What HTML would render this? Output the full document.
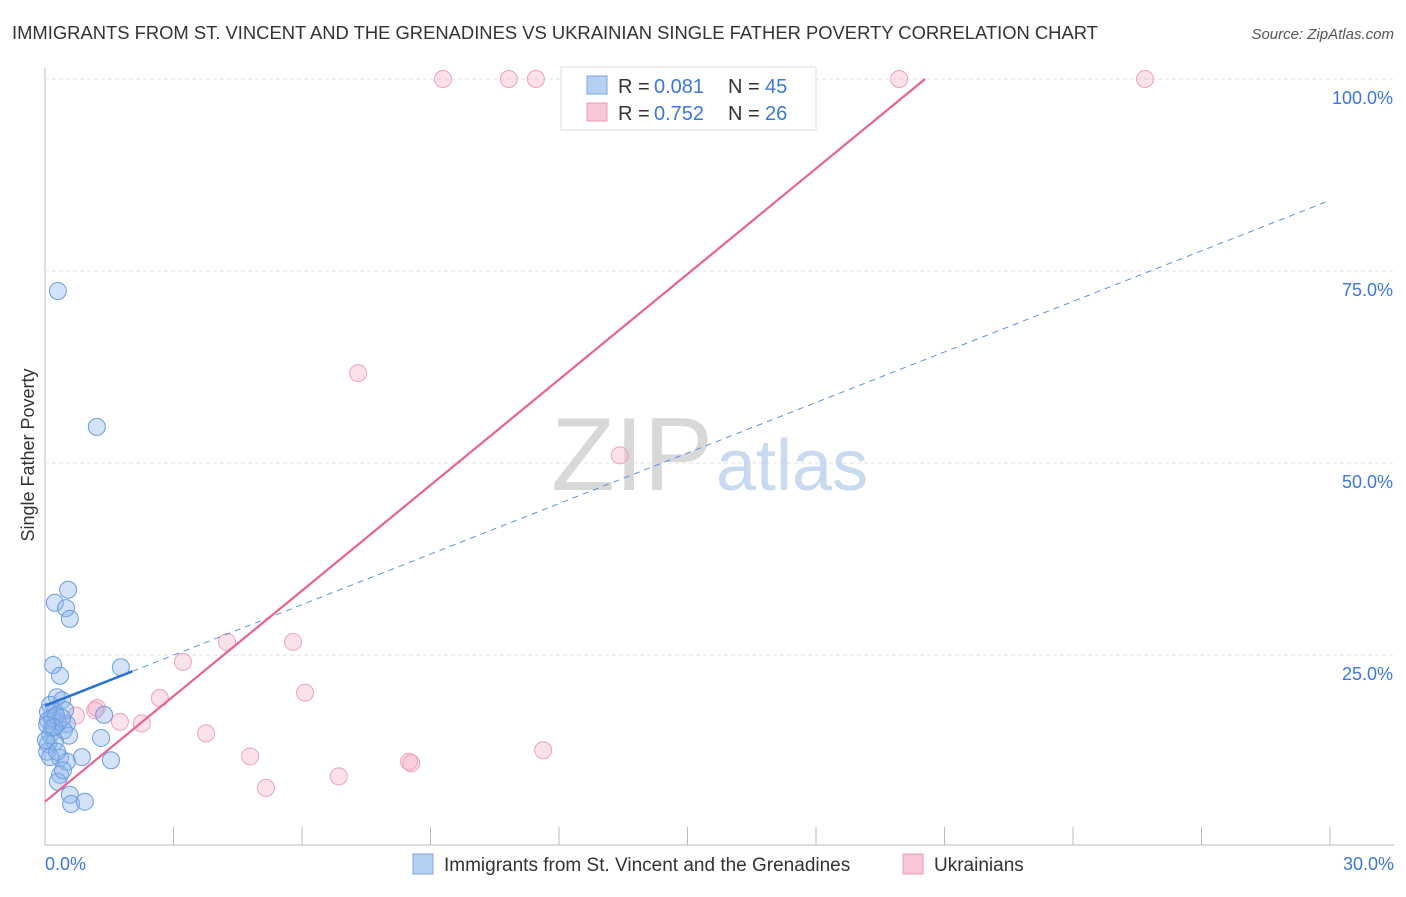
<!DOCTYPE html>
<html><head><meta charset="utf-8"><style>
body{margin:0;background:#fff;font-family:"Liberation Sans",sans-serif}
svg text{font-family:"Liberation Sans",sans-serif}
</style></head><body>
<svg width="1406" height="892">
<text x="12" y="39" font-size="18.4" fill="#333">IMMIGRANTS FROM ST. VINCENT AND THE GRENADINES VS UKRAINIAN SINGLE FATHER POVERTY CORRELATION CHART</text>
<text x="1394" y="39" font-size="15" fill="#555" font-style="italic" text-anchor="end">Source: ZipAtlas.com</text>
<g id="grid"></g>
<text x="713" y="490" font-size="104" fill="#d8d8d8" text-anchor="end" font-family="Liberation Serif">ZIP</text>
<text x="716" y="490" font-size="72" fill="#c8daf0">atlas</text>
<text x="34" y="455" font-size="18" fill="#333" text-anchor="middle" transform="rotate(-90 34 455)">Single Father Poverty</text>
<g id="marks"></g>
<g>
<rect x="561" y="67" width="255" height="63" fill="#fff" stroke="#ddd"/>
<rect x="587" y="76" width="20" height="18" fill="#b6d0f3" stroke="#7aa6e0"/>
<rect x="587" y="103" width="20" height="18" fill="#f8c6d6" stroke="#eb9ab4"/>
<text x="618" y="93" font-size="20" fill="#333">R =</text><text x="654" y="93" font-size="20" fill="#3b78d8">0.081</text>
<text x="728" y="93" font-size="20" fill="#333">N =</text><text x="765" y="93" font-size="20" fill="#3b78d8">45</text>
<text x="618" y="120" font-size="20" fill="#333">R =</text><text x="654" y="120" font-size="20" fill="#3b78d8">0.752</text>
<text x="728" y="120" font-size="20" fill="#333">N =</text><text x="765" y="120" font-size="20" fill="#3b78d8">26</text>
</g>
<g>
<rect x="413" y="854" width="20" height="20" fill="#b6d0f3" stroke="#7aa6e0"/>
<text x="444" y="871" font-size="19" fill="#333">Immigrants from St. Vincent and the Grenadines</text>
<rect x="903" y="854" width="20" height="20" fill="#f8c6d6" stroke="#eb9ab4"/>
<text x="934" y="871" font-size="19" fill="#333">Ukrainians</text>
</g>
</svg>
<script>
const yTicks=[25,50,75,100];
const yTickLabels=["25.0%","50.0%","75.0%","100.0%"];
const xTicks=[0,3,6,9,12,15,18,21,24,27,30];
const blueX=[0.30,1.21,0.54,0.23,0.49,0.58,0.19,1.77,0.35,0.28,0.40,0.12,0.47,0.23,1.38,0.07,0.30,0.51,0.16,0.44,0.12,0.56,1.31,0.07,0.23,0.05,0.35,0.86,1.54,0.51,0.12,0.35,0.30,0.58,0.61,0.93,0.07,0.16,0.26,0.40,0.02,0.21,0.28,0.05,0.42];
const blueY=[72.4,54.7,33.5,31.8,31.1,29.7,23.7,23.4,22.3,19.5,19.1,18.5,17.8,17.6,17.2,16.5,16.3,16.0,15.5,15.2,14.6,14.5,14.2,13.4,13.7,12.4,11.6,11.7,11.3,11.1,11.7,9.4,8.5,6.8,5.6,5.9,17.6,16.8,17.1,16.8,13.9,15.6,12.4,15.9,10.0];
const pinkX=[9.29,10.83,11.46,16.11,19.94,25.68,13.82,7.31,13.42,4.25,5.79,3.22,6.07,2.68,1.21,0.72,1.75,2.26,3.76,4.79,11.63,8.50,8.55,6.86,5.16,1.17];
const pinkY=[100,100,100,100,100,100,100,61.7,51.0,26.7,26.7,24.1,20.1,19.4,18.1,17.1,16.3,16.1,14.8,11.8,12.6,11.1,10.9,9.2,7.7,17.8];
const blueLine=[18.4,84.2];
const pinkLine=[5.9,4.58];
const X=v=>45+v*42.833, Y=v=>847-v*7.68;
const NS="http://www.w3.org/2000/svg";
function mk(p,t,a){const e=document.createElementNS(NS,t);for(const k in a)e.setAttribute(k,a[k]);p.appendChild(e);return e;}
const g=document.getElementById('grid'), m=document.getElementById('marks');
let ax=mk(g,'line',{x1:45,y1:68,x2:45,y2:845,stroke:'#bbb'});


let bx=mk(g,'line',{x1:45,y1:845,x2:1394,y2:845,stroke:'#bbb'});


yTicks.forEach((v,i)=>{
 const l=mk(g,'line',{x1:45,y1:Y(v),x2:1394,y2:Y(v),stroke:'#e2e2e2','stroke-dasharray':'4,3'});
 
 
 const t=mk(g,'text',{x:1393,y:Y(v)+25,'font-size':18,fill:'#3b78d8','text-anchor':'end'});
 t.textContent=yTickLabels[i];
 
 
});
xTicks.forEach(v=>{
 const l=mk(g,'line',{x1:X(v),y1:827,x2:X(v),y2:845,stroke:'#bbb'});
 
 
});
let t0=mk(g,'text',{x:45,y:870,'font-size':18,fill:'#3b78d8'});t0.textContent='0.0%';


let t1=mk(g,'text',{x:1394,y:870,'font-size':18,fill:'#3b78d8','text-anchor':'end'});t1.textContent='30.0%';


pinkX.forEach((x,i)=>{
 const c=mk(m,'circle',{cx:X(x),cy:Y(pinkY[i]),r:8.5,fill:'rgba(244,170,195,0.35)',stroke:'#eea3bc','stroke-width':1});
 
 
});
blueX.forEach((x,i)=>{
 const c=mk(m,'circle',{cx:X(x),cy:Y(blueY[i]),r:8.5,fill:'rgba(140,180,235,0.38)',stroke:'#6a9ee0','stroke-width':1});
 
 
});
const bAt=x=>blueLine[0]+(blueLine[1]-blueLine[0])*x/30;
let bd=mk(m,'line',{x1:X(2.04),y1:Y(bAt(2.04)),x2:X(30),y2:Y(bAt(30)),stroke:'#5b93dc','stroke-dasharray':'6,5','stroke-width':1});


let bs=mk(m,'line',{x1:X(0),y1:Y(bAt(0)),x2:X(2.04),y2:Y(bAt(2.04)),stroke:'#2a6fd6','stroke-width':2.5});


const xEnd=(100-pinkLine[0])/pinkLine[1];
let pl=mk(m,'line',{x1:X(0),y1:Y(pinkLine[0]),x2:X(xEnd),y2:Y(100),stroke:'#e8638f','stroke-width':2.2});


</script>
</body></html>
